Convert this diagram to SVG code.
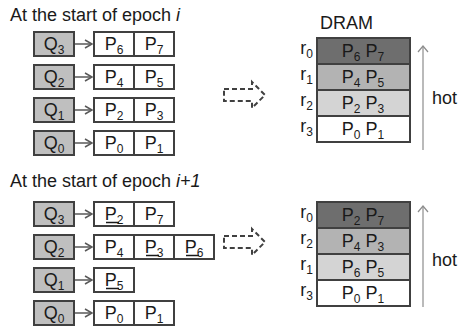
<svg xmlns="http://www.w3.org/2000/svg" width="459" height="332" viewBox="0 0 459 332">
<defs>
<marker id="chev" markerWidth="10" markerHeight="10" refX="8" refY="5" orient="auto" markerUnits="userSpaceOnUse">
<path d="M1,1 L8,5 L1,9" fill="none" stroke="#595959" stroke-width="1.5"/>
</marker>
<marker id="chevhot" markerWidth="12" markerHeight="12" refX="6" refY="1" orient="0" markerUnits="userSpaceOnUse">
<path d="M1,7 L6,1 L11,7" fill="none" stroke="#8c8c8c" stroke-width="1.2"/>
</marker>
</defs>
<style>
text{font-family:"Liberation Sans",Arial,sans-serif;fill:#1a1a1a}
.t{font-size:18px}
.lab{font-size:18px;text-anchor:middle}
.q{fill:#bfbfbf;stroke:#404040;stroke-width:2}
.p{fill:#ffffff;stroke:#404040;stroke-width:2}
.d0{fill:#6e6e6e;stroke:#404040;stroke-width:2}
.d1{fill:#b3b3b3;stroke:#404040;stroke-width:2}
.d2{fill:#d4d4d4;stroke:#404040;stroke-width:2}
.d3{fill:#ffffff;stroke:#404040;stroke-width:2}
.s{font-size:12px}
.ul{stroke:#1a1a1a;stroke-width:1.5}
.lnk{stroke:#595959;stroke-width:1.5;fill:none}
.dash{fill:none;stroke:#404040;stroke-width:2;stroke-dasharray:5,3}
.hot{stroke:#8c8c8c;stroke-width:1.2;fill:none}
.rl{font-size:18px;text-anchor:end}
</style>

<text class="t" x="10" y="21" font-size="17">At the start of epoch <tspan font-style="italic">i</tspan></text>
<text class="t" x="10" y="187" font-size="17">At the start of epoch <tspan font-style="italic">i+1</tspan></text>

<!-- Panel 1 queues -->
<g id="p1-q3"><rect class="q" x="34" y="32" width="40" height="24"/><text class="lab" x="54" y="50">Q<tspan class="s" dy="4">3</tspan></text></g>
<g id="p1-q3-p6"><rect class="p" x="94" y="32" width="40" height="24"/><text class="lab" x="114" y="50">P<tspan class="s" dy="4">6</tspan></text></g>
<g id="p1-q3-p7"><rect class="p" x="134" y="32" width="40" height="24"/><text class="lab" x="154" y="50">P<tspan class="s" dy="4">7</tspan></text></g>

<g id="p1-q2"><rect class="q" x="34" y="65" width="40" height="24"/><text class="lab" x="54" y="83">Q<tspan class="s" dy="4">2</tspan></text></g>
<g id="p1-q2-p4"><rect class="p" x="94" y="65" width="40" height="24"/><text class="lab" x="114" y="83">P<tspan class="s" dy="4">4</tspan></text></g>
<g id="p1-q2-p5"><rect class="p" x="134" y="65" width="40" height="24"/><text class="lab" x="154" y="83">P<tspan class="s" dy="4">5</tspan></text></g>

<g id="p1-q1"><rect class="q" x="34" y="98" width="40" height="24"/><text class="lab" x="54" y="116">Q<tspan class="s" dy="4">1</tspan></text></g>
<g id="p1-q1-p2"><rect class="p" x="94" y="98" width="40" height="24"/><text class="lab" x="114" y="116">P<tspan class="s" dy="4">2</tspan></text></g>
<g id="p1-q1-p3"><rect class="p" x="134" y="98" width="40" height="24"/><text class="lab" x="154" y="116">P<tspan class="s" dy="4">3</tspan></text></g>

<g id="p1-q0"><rect class="q" x="34" y="131" width="40" height="24"/><text class="lab" x="54" y="149">Q<tspan class="s" dy="4">0</tspan></text></g>
<g id="p1-q0-p0"><rect class="p" x="94" y="131" width="40" height="24"/><text class="lab" x="114" y="149">P<tspan class="s" dy="4">0</tspan></text></g>
<g id="p1-q0-p1"><rect class="p" x="134" y="131" width="40" height="24"/><text class="lab" x="154" y="149">P<tspan class="s" dy="4">1</tspan></text></g>

<!-- Panel 1 DRAM -->
<g id="p1-dram">
<text class="t" x="320" y="29">DRAM</text>
<rect class="d0" x="317" y="38" width="93" height="26"/>
<rect class="d1" x="317" y="64" width="93" height="26"/>
<rect class="d2" x="317" y="90" width="93" height="26"/>
<rect class="d3" x="317" y="116" width="93" height="26"/>
<text class="lab" x="363" y="57">P<tspan class="s" dy="4">6</tspan><tspan dy="-4"> P</tspan><tspan class="s" dy="4">7</tspan></text>
<text class="lab" x="363" y="83">P<tspan class="s" dy="4">4</tspan><tspan dy="-4"> P</tspan><tspan class="s" dy="4">5</tspan></text>
<text class="lab" x="363" y="109">P<tspan class="s" dy="4">2</tspan><tspan dy="-4"> P</tspan><tspan class="s" dy="4">3</tspan></text>
<text class="lab" x="363" y="135">P<tspan class="s" dy="4">0</tspan><tspan dy="-4"> P</tspan><tspan class="s" dy="4">1</tspan></text>
<text class="rl" x="313" y="54">r<tspan class="s" dy="4">0</tspan></text>
<text class="rl" x="313" y="80">r<tspan class="s" dy="4">1</tspan></text>
<text class="rl" x="313" y="106">r<tspan class="s" dy="4">2</tspan></text>
<text class="rl" x="313" y="132">r<tspan class="s" dy="4">3</tspan></text>
<text class="t" x="432" y="104">hot</text>
</g>

<!-- Panel 2 queues -->
<g id="p2-q3"><rect class="q" x="34" y="202" width="40" height="24"/><text class="lab" x="54" y="220">Q<tspan class="s" dy="4">3</tspan></text></g>
<g id="p2-q3-p2"><rect class="p" x="94" y="202" width="40" height="24"/><text class="lab" x="114" y="220">P<tspan class="s" dy="4">2</tspan></text><line class="ul" x1="106" y1="222.5" x2="119" y2="222.5"/></g>
<g id="p2-q3-p7"><rect class="p" x="134" y="202" width="40" height="24"/><text class="lab" x="154" y="220">P<tspan class="s" dy="4">7</tspan></text></g>

<g id="p2-q2"><rect class="q" x="34" y="235" width="40" height="24"/><text class="lab" x="54" y="253">Q<tspan class="s" dy="4">2</tspan></text></g>
<g id="p2-q2-p4"><rect class="p" x="94" y="235" width="40" height="24"/><text class="lab" x="114" y="253">P<tspan class="s" dy="4">4</tspan></text></g>
<g id="p2-q2-p3"><rect class="p" x="134" y="235" width="40" height="24"/><text class="lab" x="154" y="253">P<tspan class="s" dy="4">3</tspan></text><line class="ul" x1="146" y1="255.5" x2="159" y2="255.5"/></g>
<g id="p2-q2-p6"><rect class="p" x="174" y="235" width="40" height="24"/><text class="lab" x="194" y="253">P<tspan class="s" dy="4">6</tspan></text><line class="ul" x1="186" y1="255.5" x2="199" y2="255.5"/></g>

<g id="p2-q1"><rect class="q" x="34" y="268" width="40" height="24"/><text class="lab" x="54" y="286">Q<tspan class="s" dy="4">1</tspan></text></g>
<g id="p2-q1-p5"><rect class="p" x="94" y="268" width="40" height="24"/><text class="lab" x="114" y="286">P<tspan class="s" dy="4">5</tspan></text><line class="ul" x1="106" y1="288.5" x2="119" y2="288.5"/></g>

<g id="p2-q0"><rect class="q" x="34" y="301" width="40" height="24"/><text class="lab" x="54" y="319">Q<tspan class="s" dy="4">0</tspan></text></g>
<g id="p2-q0-p0"><rect class="p" x="94" y="301" width="40" height="24"/><text class="lab" x="114" y="319">P<tspan class="s" dy="4">0</tspan></text></g>
<g id="p2-q0-p1"><rect class="p" x="134" y="301" width="40" height="24"/><text class="lab" x="154" y="319">P<tspan class="s" dy="4">1</tspan></text></g>

<!-- Panel 2 DRAM -->
<g id="p2-dram">
<rect class="d0" x="317" y="202" width="93" height="26"/>
<rect class="d1" x="317" y="228" width="93" height="26"/>
<rect class="d2" x="317" y="254" width="93" height="26"/>
<rect class="d3" x="317" y="280" width="93" height="26"/>
<text class="lab" x="363" y="221">P<tspan class="s" dy="4">2</tspan><tspan dy="-4"> P</tspan><tspan class="s" dy="4">7</tspan></text>
<text class="lab" x="363" y="247">P<tspan class="s" dy="4">4</tspan><tspan dy="-4"> P</tspan><tspan class="s" dy="4">3</tspan></text>
<text class="lab" x="363" y="273">P<tspan class="s" dy="4">6</tspan><tspan dy="-4"> P</tspan><tspan class="s" dy="4">5</tspan></text>
<text class="lab" x="363" y="299">P<tspan class="s" dy="4">0</tspan><tspan dy="-4"> P</tspan><tspan class="s" dy="4">1</tspan></text>
<text class="rl" x="313" y="218">r<tspan class="s" dy="4">0</tspan></text>
<text class="rl" x="313" y="244">r<tspan class="s" dy="4">2</tspan></text>
<text class="rl" x="313" y="270">r<tspan class="s" dy="4">1</tspan></text>
<text class="rl" x="313" y="296">r<tspan class="s" dy="4">3</tspan></text>
<text class="t" x="432" y="266">hot</text>
</g>

<g id="connectors">
<line class="lnk" x1="75" y1="44" x2="92" y2="44" marker-end="url(#chev)"/>
<line class="lnk" x1="75" y1="77" x2="92" y2="77" marker-end="url(#chev)"/>
<line class="lnk" x1="75" y1="110" x2="92" y2="110" marker-end="url(#chev)"/>
<line class="lnk" x1="75" y1="143" x2="92" y2="143" marker-end="url(#chev)"/>
<line class="lnk" x1="75" y1="214" x2="92" y2="214" marker-end="url(#chev)"/>
<line class="lnk" x1="75" y1="247" x2="92" y2="247" marker-end="url(#chev)"/>
<line class="lnk" x1="75" y1="280" x2="92" y2="280" marker-end="url(#chev)"/>
<line class="lnk" x1="75" y1="313" x2="92" y2="313" marker-end="url(#chev)"/>
<polygon class="dash" points="224,89 252,89 252,82 265,95 252,108 252,101 224,101"/>
<polygon class="dash" points="224,236 252,236 252,229 265,242 252,255 252,248 224,248"/>
<line class="hot" x1="423" y1="150" x2="423" y2="46" marker-end="url(#chevhot)"/>
<line class="hot" x1="423" y1="307" x2="423" y2="206" marker-end="url(#chevhot)"/>
</g>
</svg>
